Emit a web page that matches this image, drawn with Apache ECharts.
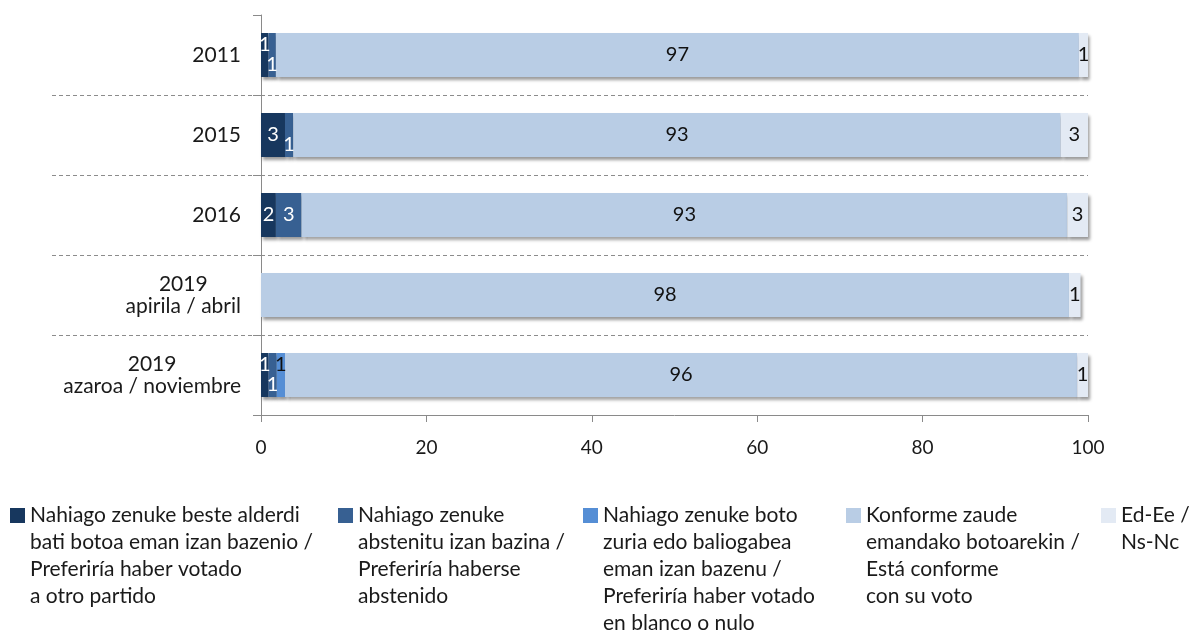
<!DOCTYPE html>
<html>
<head>
<meta charset="utf-8">
<script src="https://cdn.jsdelivr.net/npm/echarts@6/dist/echarts.min.js"></script>
<style>
  html, body { margin: 0; padding: 0; background: #fff; }
  #chart { width: 1189px; height: 634px; }
</style>
</head>
<body>
<div id="chart"></div>
<script>
// urteak / años
const categories = ['2011', '2015', '2016', '2019\napirila / abril', '2019\nazaroa / noviembre'];

const seriesNames = [
  'Nahiago zenuke beste alderdi\nbati botoa eman izan bazenio /\nPreferiría haber votado\na otro partido',
  'Nahiago zenuke\nabstenitu izan bazina /\nPreferiría haberse\nabstenido',
  'Nahiago zenuke boto\nzuria edo baliogabea\neman izan bazenu /\nPreferiría haber votado\nen blanco o nulo',
  'Konforme zaude\nemandako botoarekin /\nEstá conforme\ncon su voto',
  'Ed-Ee /\nNs-Nc'
];

// % balioak (etiketan biribilduta)
const otherParty = [0.9, 2.9, 1.8, 0, 0.9];
const abstain = [0.9, 1.0, 3.1, 0, 1.0];
const blankNull = [0, 0, 0, 0, 1.0];
const satisfied = [97.1, 92.8, 92.6, 97.7, 95.8];
const dontKnow = [1.1, 3.3, 2.5, 1.4, 1.3];

const xTicks = [0, 20, 40, 60, 80, 100];

const values = [otherParty, abstain, blankNull, satisfied, dontKnow];
const colors = ['#17375E', '#376092', '#558ED5', '#B9CDE5', '#E3EAF4'];
const labelColors = ['#fff', '#fff', '#111', '#111', '#111'];
// etiketa txikiak gora/behera mugitu (Excel bezala)
const labelLift = [
  [-10, 0, 0, 0, -10],
  [10, 10, 0, 0, 10],
  [0, 0, 0, 0, -10],
  [0, 0, 0, 0, 0],
  [0, 0, 0, 0, 0]
];
const legendLeft = [5, 333, 578, 841, 1096];

const FONT = 'Lato';
const LH = 27;

const chart = echarts.init(document.getElementById('chart'));

const series = values.map((vals, s) => ({
  name: seriesNames[s],
  type: 'bar',
  stack: 'total',
  barWidth: 44,
  xAxisIndex: 0,
  yAxisIndex: 0,
  itemStyle: {
    color: colors[s],
    shadowColor: 'rgba(0,0,0,0.4)',
    shadowBlur: 3,
    shadowOffsetX: 2,
    shadowOffsetY: 3
  },
  label: {
    show: true,
    position: 'inside',
    color: labelColors[s],
    fontFamily: FONT,
    fontSize: 20,
    formatter: p => (p.value > 0 ? String(Math.round(p.value)) : '')
  },
  data: vals.map((v, i) => ({ value: v, label: { offset: [0, labelLift[s][i]] } }))
}));

// legenda: lauki txikia lehen lerroan, gainerakoak koskatuta
const legends = seriesNames.map((name, s) => ({
  data: [name],
  left: legendLeft[s],
  top: 505,
  padding: 0,
  icon: 'none',
  itemWidth: 0,
  itemHeight: 10,
  selectedMode: false,
  formatter: n => n.split('\n')
    .map((line, k) => (k === 0 ? '{m| }{g| }' : '{sp| }') + '{t|' + line + '}')
    .join('\n'),
  textStyle: {
    rich: {
      m: { width: 15, height: 15, backgroundColor: colors[s], lineHeight: LH },
      g: { width: 5, lineHeight: LH },
      sp: { width: 20, lineHeight: LH },
      t: { fontFamily: FONT, fontSize: 21, color: '#1a1a1a', lineHeight: LH }
    }
  }
}));

chart.setOption({
  animation: false,
  backgroundColor: '#fff',
  textStyle: { fontFamily: FONT },
  legend: legends,
  grid: [
    { left: 261, right: 101, top: 15, bottom: 219 },
    { left: 52, width: 209, top: 15, bottom: 219 }
  ],
  xAxis: [
    {
      gridIndex: 0,
      type: 'value',
      min: 0,
      max: 100,
      interval: 20,
      axisLine: { show: true, lineStyle: { color: '#8a8a8a' } },
      axisTick: { show: true, length: 7, lineStyle: { color: '#8a8a8a' } },
      axisLabel: {
        margin: 23,
        fontSize: 19,
        color: '#1a1a1a',
        fontFamily: FONT,
        formatter: v => (xTicks.includes(v) ? String(v) : '')
      },
      splitLine: { show: false }
    },
    { gridIndex: 1, type: 'value', show: false }
  ],
  yAxis: [
    {
      gridIndex: 0,
      type: 'category',
      data: categories,
      inverse: true,
      axisLine: { show: true, lineStyle: { color: '#8a8a8a' } },
      axisTick: { show: true, length: 8, lineStyle: { color: '#8a8a8a' } },
      axisLabel: {
        margin: 20,
        color: '#1a1a1a',
        formatter: v => v.split('\n').map(t => '{c|' + t + '}').join('\n'),
        rich: {
          c: { align: 'center', fontSize: 21, lineHeight: 22, fontFamily: FONT, color: '#1a1a1a' }
        }
      },
      splitLine: {
        show: true,
        showMinLine: false,
        showMaxLine: false,
        lineStyle: { color: '#8c8c8c', type: [4, 3], width: 1 }
      }
    },
    {
      // marra etenen luzapena ezkerrean
      gridIndex: 1,
      type: 'category',
      data: categories,
      inverse: true,
      axisLine: { show: false },
      axisTick: { show: false },
      axisLabel: { show: false },
      splitLine: {
        show: true,
        showMinLine: false,
        showMaxLine: false,
        lineStyle: { color: '#8c8c8c', type: [4, 3], width: 1 }
      }
    }
  ],
  series: series
});
</script>
</body>
</html>
